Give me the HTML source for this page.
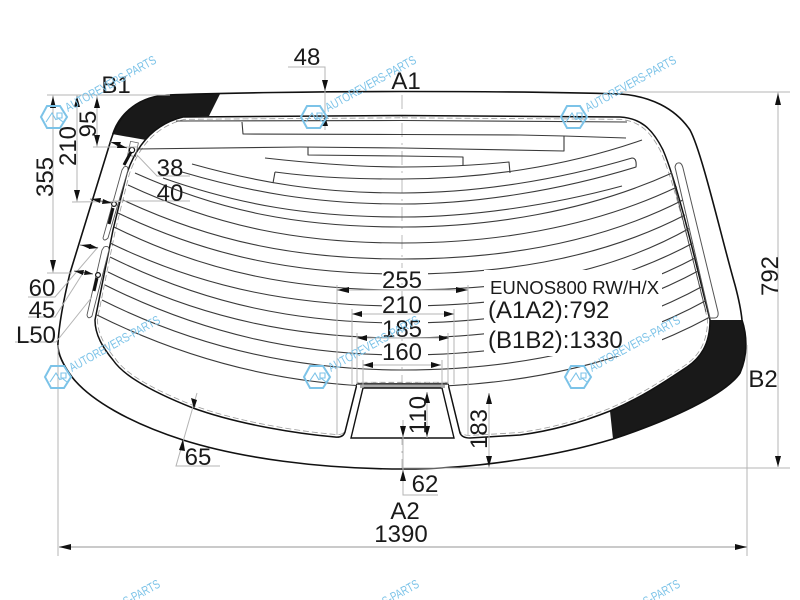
<!DOCTYPE html>
<html><head><meta charset="utf-8"><style>
html,body{margin:0;padding:0;background:#fff;width:800px;height:600px;overflow:hidden}
svg{display:block}
text{font-family:"Liberation Sans",sans-serif;fill:#1a1a1a}
.h{fill:none;stroke:#3a3a3a;stroke-width:1.1;stroke-linejoin:round}
.d{fill:none;stroke:#b4b4b4;stroke-width:1}
.l{font-size:24px;text-anchor:middle}
text.wt{fill:#7cc3e8;font-size:12.5px}
</style></head><body>
<svg width="800" height="600" viewBox="0 0 800 600" xmlns="http://www.w3.org/2000/svg">
<rect width="800" height="600" fill="#fff"/>
<!-- black bands -->
<path d="M112,134 C118,115 135,97 167,95 C185,94.5 200,94.3 220,94 L209,116 L183,117 C168,120 156,128 146,140 Z" fill="#191919"/>
<path d="M710,320 L742,320 C747,335 748,355 740,373 C725,395 670,420 613,439 L610,411 C640,398 660,385 687,367 C700,358 710,345 710,320 Z" fill="#191919"/>
<!-- center axis -->
<path d="M402,95 V470" stroke="#bbb" stroke-width="1" stroke-dasharray="14 6 2 6" fill="none"/>
<!-- dashed inner -->
<path transform="translate(402 270) scale(.992 .985) translate(-402 -270)" d="M402,115.5 L620,117 C640,118 652,128 663,150 C678,185 695,260 710,320 C710,345 700,358 687,367 C660,385 640,398 610,411 C580,423 550,431 520,435 L470,438 Q462,438 460,433 L448,384 L357,384 L345,432 Q343,438 335,437 C300,434 240,425 193,408 C160,395 125,378 113,360 C103,348 95,335 95,320 L113,230 L127,173 C135,150 150,125 183,117 Z" fill="none" stroke="#999" stroke-width=".8" stroke-dasharray="6 3"/>
<!-- outlines -->
<path d="M402,91.5 C480,91.5 560,92 620,94 C650,96 675,108 690,130 C702,152 722,240 735,285 C739,300 741,310 742,320 C747,335 748,355 740,373 C725,395 670,420 613,439 C560,455 480,469 403,469 C320,469 240,458 183,440 C130,423 90,400 72,377 C64,366 57,354 58,343 C59,325 64,298 70,273 L110,143 C118,115 135,97 167,95 C220,93 320,91.5 402,91.5 Z" fill="none" stroke="#111" stroke-width="1.6"/>
<path d="M402,115.5 L620,117 C640,118 652,128 663,150 C678,185 695,260 710,320 C710,345 700,358 687,367 C660,385 640,398 610,411 C580,423 550,431 520,435 L470,438 Q462,438 460,433 L448,384 L357,384 L345,432 Q343,438 335,437 C300,434 240,425 193,408 C160,395 125,378 113,360 C103,348 95,335 95,320 L113,230 L127,173 C135,150 150,125 183,117 Z" fill="none" stroke="#111" stroke-width="1.5"/>
<!-- top lines -->
<path class="h" d="M176,121 L402,120.5 L627,122"/>
<path class="h" d="M242,122 L243,134 L402,134.5 L520,135 L564,136 L626,138"/>
<path class="h" d="M137,149 L300,147 L402,148 L564,151 V136"/>
<path class="h" d="M308,147 V155 L402,156 L463,157 V165"/>
<path class="h" d="M265,158 C310,163 360,167 402,167 C440,167 480,165 509,162 L510,173"/>
<path class="h" d="M275,172 L273,183"/>
<path class="h" d="M275,172 C320,178 360,179 402,179 C480,179 565,167 642,140"/>
<path class="h" d="M192,164 C260,183 320,193 402,193 C476,193 558,180 632,158 Q637,158 636,167 C561,190 477,204 402,204 C315,204 250,192 182,172"/>
<path class="h" d="M163,178 C240,205 310,217 402,217 C472,217 552,205 622,186"/>
<path class="h" d="M135,173 C222,212 300,227 402,227 C488,227 586,212 672,173"/>
<path class="h" d="M128,185 C218,227 300,243 402,243 C490,243 589,229 677,187"/>
<path class="h" d="M123,200 C215,243 300,259 402,259 C492,259 593,246 683,200"/>
<path class="h" d="M118,213 C212,258 300,274 402,274 C493,274 594,262 685,215"/>
<path class="h" d="M114,227 C209,274 300,290 402,290 C494,290 598,280 690,228"/>
<path class="h" d="M110,243 C207,290 300,306 402,306 C496,306 601,293 695,242"/>
<path class="h" d="M110,257 C207,305 300,323 402,323 C497,323 603,307 697,257"/>
<path class="h" d="M108,272 C205,320 300,338 402,338 C498,338 604,322 700,270"/>
<path class="h" d="M105,285 C203,334 300,355 402,355 C500,355 607,339 705,285"/>
<path class="h" d="M102,300 C200,349 300,370 402,370 C500,370 609,354 707,300"/>
<path class="h" d="M97,315 C197,365 300,387 402,387 C500,387 610,371 710,317"/>
<!-- white cutouts -->
<rect x="484" y="270" width="178" height="86" fill="#fff"/>
<rect x="382" y="268" width="46" height="15" fill="#fff"/>
<rect x="382" y="298" width="46" height="15" fill="#fff"/>
<rect x="382" y="318" width="46" height="12" fill="#fff"/>
<rect x="382" y="345" width="46" height="15" fill="#fff"/>
<!-- notch -->
<rect x="357" y="384" width="91" height="4" fill="#fff"/>
<rect x="360" y="385" width="85" height="3" fill="#aaa"/>
<path d="M357,383 H448" fill="none" stroke="#999" stroke-width=".7" stroke-dasharray="5 3"/>
<path d="M357,384 H448" fill="none" stroke="#111" stroke-width="1.2"/>
<path d="M363,388 H442 L454,438 H351 Z" fill="#fff" stroke="#111" stroke-width="1.4"/>
<!-- right strip -->
<path d="M675,167 Q676,162 680,163 Q682,164 683,168 L718,312 Q719,318 714,318 L710,318 L675,167 Z" fill="#fff" stroke="#555" stroke-width="1"/>
<path d="M671,172 L706,312" fill="none" stroke="#444" stroke-width=".9"/>
<!-- left strips -->
<path d="M124,167 Q128,165 128,170 L108,238 Q104,242 103,238 L122,170 Z" fill="#fff" stroke="#555" stroke-width=".9"/>
<path d="M104,247 Q109,245 109,250 L92,316 Q88,320 87,315 L102,250 Z" fill="#fff" stroke="#555" stroke-width=".9"/>
<rect x="129" y="142" width="8" height="14" transform="rotate(12 133 149)" fill="none" stroke="#666" stroke-width=".8"/>
<path d="M131,152 L124,165 M113,208 L109,224 M97,278 L94,291" stroke="#111" stroke-width="3" fill="none"/>
<circle cx="132" cy="150" r="2.6" fill="#fff" stroke="#111" stroke-width="1.2"/>
<circle cx="114" cy="204" r="2.4" fill="#fff" stroke="#111" stroke-width="1.2"/>
<circle cx="98" cy="275" r="2.4" fill="#fff" stroke="#111" stroke-width="1.2"/>
<!-- dim lines -->
<g class="d">
<path d="M47,95 H170 M620,92 H790 M778,92 V467 M402,468 H790"/>
<path d="M53,95 V273 M47,273 H72 M77,95 V202 M72,202 L120,201.5 M97,96 V147 M93,147 H137"/>
<path d="M288,67 H325 V130"/>
<path d="M137,155 L157,176 H190 M112,201 H190"/>
<path d="M98,247 L55,297 H28 M83,273 L55,317 H28 M92,297 L56,342 H15"/>
<path d="M197,393 L176,466 H220"/>
<path d="M337,285 V435 M468,285 V435 M352,309 V384 M454,309 V384 M357,333 V384 M448,333 V384 M363,360 V388 M442,360 V388"/>
<path d="M337,290 H468 M352,314 H454 M357,338 H449 M363,365 H441"/>
<path d="M427,392 V438 M489,393 V468 M403,420 V495 H438"/>
<path d="M58,345 V556 M747,345 V556"/>
</g>
<path d="M59,547 H747" stroke="#b8b8b8" stroke-width="1.6" fill="none"/>
<path d="M80,245 L98,248 M74,271 L93,274 M110,142 L127,148 M90,199 L112,203" stroke="#777" stroke-width="1" fill="none"/>
<!-- arrowheads -->
<g fill="#111">
<polygon points="778,93 775,105 781,105"/><polygon points="778,467 775,456 781,456"/>
<polygon points="53,96 50,108 56,108"/><polygon points="53,272 50,260 56,260"/>
<polygon points="77,201 74,190 80,190"/><polygon points="77,96 74,107 80,107"/>
<polygon points="97,146 94,135 100,135"/><polygon points="97,97 94,108 100,108"/>
<polygon points="325,91 322,80 328,80"/><polygon points="325,116 322,126 328,126"/>
<polygon points="337,290 349,287 349,293"/><polygon points="468,290 456,287 456,293"/>
<polygon points="352,314 362,311 362,317"/><polygon points="454,314 444,311 444,317"/>
<polygon points="357,338 367,335 367,341"/><polygon points="449,338 439,335 439,341"/>
<polygon points="363,365 373,362 373,368"/><polygon points="441,365 431,362 431,368"/>
<polygon points="427,392 424,403 430,403"/><polygon points="427,437 424,426 430,426"/>
<polygon points="489,393 486,404 492,404"/><polygon points="489,467 486,456 492,456"/>
<polygon points="403,437 400,426 406,426"/><polygon points="403,470 400,481 406,481"/>
<polygon points="59,547 71,544 71,550"/><polygon points="747,547 735,544 735,550"/>
<polygon points="194,409 191,398 197,400"/><polygon points="183,439 179,450 185,451"/>
<polygon points="111,142 121,142 119,147"/><polygon points="127,148 117,148 118,143"/>
<polygon points="91,199 101,198 100,203"/><polygon points="112,203 102,204 103,199"/>
<polygon points="81,245 91,244 90,249"/><polygon points="98,248 89,249 90,244"/>
<polygon points="74,271 84,270 83,275"/><polygon points="93,274 84,275 85,270"/>
</g>
<!-- labels -->
<text class="l" x="307" y="65">48</text>
<text class="l" x="406" y="89">A1</text>
<text class="l" x="116" y="93">B1</text>
<text class="l" transform="translate(96 124) rotate(-90)">95</text>
<text class="l" transform="translate(76 146) rotate(-90)">210</text>
<text class="l" transform="translate(53 177) rotate(-90)">355</text>
<text class="l" x="170" y="176">38</text>
<text class="l" x="170" y="201">40</text>
<text class="l" x="42" y="296">60</text>
<text class="l" x="42" y="318">45</text>
<text class="l" x="36" y="343">L50</text>
<text class="l" x="198" y="465">65</text>
<text class="l" x="402" y="288">255</text>
<text class="l" x="402" y="313">210</text>
<text class="l" x="402" y="337">185</text>
<text class="l" x="402" y="360">160</text>
<text x="490" y="294" style="font-size:18.6px">EUNOS800 RW/H/X</text>
<text x="488" y="318" style="font-size:24px">(A1A2):792</text>
<text x="488" y="348" style="font-size:24px">(B1B2):1330</text>
<text class="l" transform="translate(778 276) rotate(-90)">792</text>
<text class="l" x="763" y="387">B2</text>
<text class="l" transform="translate(426 415) rotate(-90)">110</text>
<text class="l" transform="translate(487 429) rotate(-90)">183</text>
<text class="l" x="425" y="492">62</text>
<text class="l" x="405" y="519">A2</text>
<text class="l" x="401" y="542">1390</text>
<!-- watermarks -->
<defs><g id="wm">
<polygon points="41,117 47,106 60,106 67,117 60,128 47,128" fill="none" stroke="#7cc3e8" stroke-width="2"/>
<path d="M46,122 L52,113 L56,120 M57,120 V113 H62 V118 H58 L63,122" fill="none" stroke="#7cc3e8" stroke-width="1.1"/>
<text class="wt" transform="translate(68 112) rotate(-29)" textLength="102" lengthAdjust="spacingAndGlyphs">AUTOREVERS-PARTS</text>
</g></defs>
<use href="#wm" x="0" y="0"/><use href="#wm" x="260" y="0"/><use href="#wm" x="520" y="0"/>
<use href="#wm" x="4" y="260"/><use href="#wm" x="263" y="260"/><use href="#wm" x="524" y="260"/>
<text class="wt" transform="translate(126 606) rotate(-29)" textLength="40" lengthAdjust="spacingAndGlyphs">S-PARTS</text>
<text class="wt" transform="translate(385 606) rotate(-29)" textLength="40" lengthAdjust="spacingAndGlyphs">S-PARTS</text>
<text class="wt" transform="translate(646 606) rotate(-29)" textLength="40" lengthAdjust="spacingAndGlyphs">S-PARTS</text>
</svg>
</body></html>
